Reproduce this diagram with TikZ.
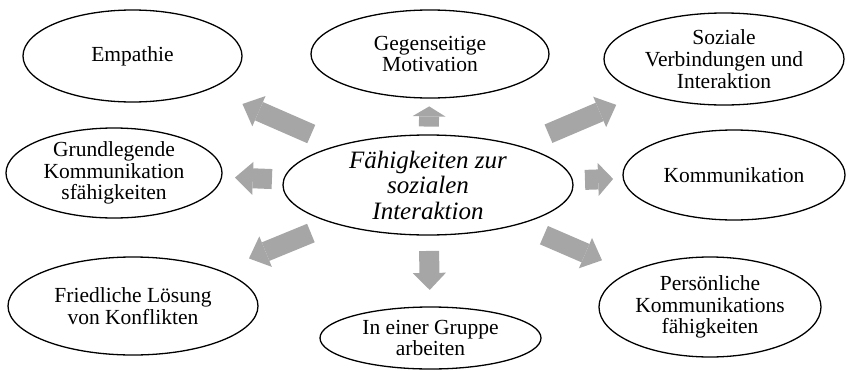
\documentclass[tikz,border=0pt]{standalone}
\usepackage{fontspec}
\setmainfont{Liberation Serif}
\usetikzlibrary{shapes.geometric,arrows.meta,calc}
\definecolor{arrowgray}{RGB}{166,166,166}
\tikzset{
  bubble/.style={ellipse, draw=black, line width=1.3pt, inner sep=0pt, align=center,
    font=\fontsize{21.5}{21.8}\selectfont},
  centerbubble/.style={bubble, font=\fontsize{25}{25.5}\selectfont\itshape},
  blk/.style={draw=arrowgray, line width=20pt,
    -{Triangle[length=#1, width=33pt, line width=0pt, fill=arrowgray]}}
}
\begin{document}
\begin{tikzpicture}[x=1pt,y=-1pt]
\useasboundingbox (0,0) rectangle (847,370);
\node[centerbubble, minimum width=290pt, minimum height=100pt] (cen) at (428,185) {Fähigkeiten zur\\sozialen\\Interaktion};
\node[bubble, minimum width=219pt, minimum height=92pt] (emp) at (132.5,56) {Empathie};
\node[bubble, minimum width=238pt, minimum height=88pt] (geg) at (430,54) {Gegenseitige\\Motivation};
\node[bubble, minimum width=240pt, minimum height=92pt] (soz) at (724,59) {Soziale\\Verbindungen und\\Interaktion};
\node[bubble, minimum width=216pt, minimum height=90pt] (grd) at (114,173) {Grundlegende\\Kommunikation\\sfähigkeiten};
\node[bubble, minimum width=222pt, minimum height=90pt] (kom) at (734,175) {Kommunikation};
\node[bubble, minimum width=250pt, minimum height=98pt] (fri) at (133,306) {Friedliche Lösung\\von Konflikten};
\node[bubble, minimum width=221pt, minimum height=62pt] (grp) at (430.5,338) {In einer Gruppe\\arbeiten};
\node[bubble, minimum width=222pt, minimum height=100pt] (per) at (710,307) {Persönliche\\Kommunikations\\fähigkeiten};
% block arrows
\draw[blk=18pt] ($(cen.center)!0.395!(emp.center)$) -- ($(cen.center)!0.628!(emp.center)$);
\draw[blk=10pt] ($(cen.center)!0.446!(geg.center)$) -- ($(cen.center)!0.6!(geg.center)$);
\draw[blk=18pt] ($(cen.center)!0.407!(soz.center)$) -- ($(cen.center)!0.636!(soz.center)$);
\draw[blk=18pt] ($(cen.center)!0.497!(grd.center)$) -- ($(cen.center)!0.615!(grd.center)$);
\draw[blk=15pt] ($(cen.center)!0.513!(kom.center)$) -- ($(cen.center)!0.605!(kom.center)$);
\draw[blk=18pt] ($(cen.center)!0.397!(fri.center)$) -- ($(cen.center)!0.607!(fri.center)$);
\draw[blk=17pt] ($(cen.center)!0.431!(grp.center)$) -- ($(cen.center)!0.686!(grp.center)$);
\draw[blk=18pt] ($(cen.center)!0.411!(per.center)$) -- ($(cen.center)!0.617!(per.center)$);
\end{tikzpicture}
\end{document}
